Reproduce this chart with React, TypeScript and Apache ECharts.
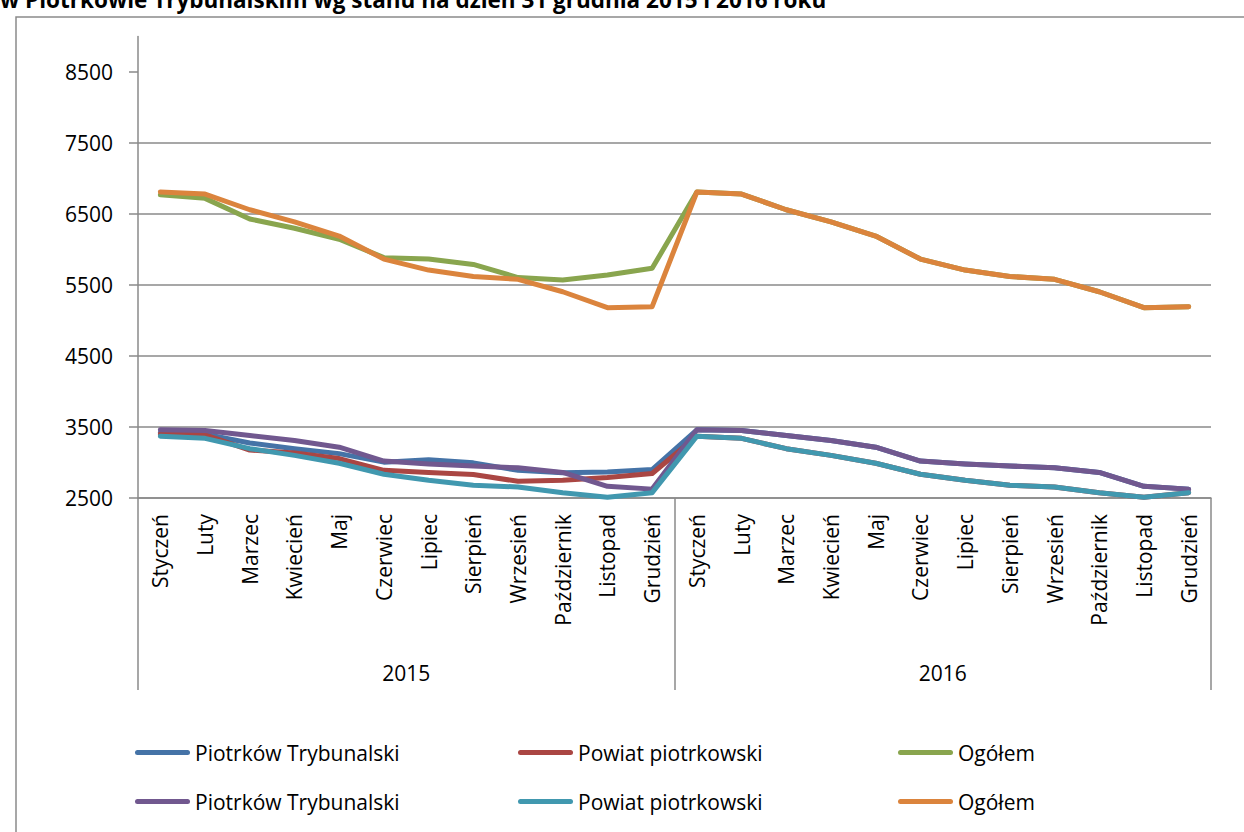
import React, { useEffect, useRef } from 'react';
import * as echarts from 'echarts';

const TITLE = 'w Piotrkowie Trybunalskim wg stanu na dzień 31 grudnia 2015 i 2016 roku';
const years = ['2015', '2016'];
const months = ['Styczeń', 'Luty', 'Marzec', 'Kwiecień', 'Maj', 'Czerwiec', 'Lipiec', 'Sierpień', 'Wrzesień', 'Październik', 'Listopad', 'Grudzień'];
const yTicks = [2500, 3500, 4500, 5500, 6500, 7500, 8500];

// 2015-style series (first three)
const piotrkow2015 = [3420, 3400, 3275, 3195, 3125, 3005, 3040, 2995, 2890, 2855, 2865, 2900];
const powiat2015 = [3400, 3390, 3175, 3135, 3055, 2890, 2860, 2830, 2735, 2750, 2790, 2845];
const ogolem2015 = [6770, 6720, 6430, 6300, 6145, 5885, 5865, 5790, 5605, 5570, 5640, 5735];
// 2016 values
const piotrkow2016 = [3460, 3450, 3380, 3310, 3215, 3020, 2980, 2950, 2925, 2860, 2665, 2625];
const powiat2016 = [3370, 3340, 3195, 3100, 2990, 2835, 2750, 2680, 2655, 2575, 2510, 2575];
const ogolem2016 = [6810, 6780, 6560, 6390, 6190, 5865, 5710, 5620, 5580, 5405, 5180, 5195];

const legendLabels = ['Piotrków Trybunalski', 'Powiat piotrkowski', 'Ogółem', 'Piotrków Trybunalski', 'Powiat piotrkowski', 'Ogółem'];
const seriesIds = ['s1', 's2', 's3', 's4', 's5', 's6'];
const colors = ['#4573A7', '#AA4643', '#89A54E', '#71588F', '#4198AF', '#DB843D'];

const seriesData = [
  [...piotrkow2015, ...piotrkow2016],
  [...powiat2015, ...powiat2016],
  [...ogolem2015, ...ogolem2016],
  [...piotrkow2016, ...piotrkow2016],
  [...powiat2016, ...powiat2016],
  [...ogolem2016, ...ogolem2016],
];

const FONT = '"Open Sans", sans-serif';
const GRID = '#8A8A8A';
const CAPSULE = 'path://M2.5,0 L52.5,0 A2.5,2.5 0 0 1 52.5,5 L2.5,5 A2.5,2.5 0 0 1 2.5,0 Z';

export default function App() {
  const ref = useRef<HTMLDivElement>(null);
  useEffect(() => {
    if (!ref.current) return;
    const chart = echarts.init(ref.current, undefined, { renderer: 'svg' });
    const categories = years.flatMap((y) => months.map((m) => `${y}|${m}`));
    const legendLeft = [135, 518, 898];
    const legendTop = [742, 791];
    chart.setOption({
      animation: false,
      backgroundColor: '#fff',
      title: {
        text: TITLE,
        left: 0,
        top: -12,
        padding: 0,
        textStyle: { fontFamily: FONT, fontSize: 22.5, fontWeight: 'bold', color: '#000' },
      },
      graphic: [
        {
          type: 'rect',
          silent: true,
          z: -10,
          shape: { x: 16, y: 17, width: 1400, height: 1000 },
          style: { fill: 'none', stroke: GRID, lineWidth: 1.5 },
        },
      ],
      legend: seriesIds.map((id, i) => ({
        data: [{ name: id, icon: CAPSULE }],
        left: legendLeft[i % 3],
        top: legendTop[Math.floor(i / 3)],
        padding: 0,
        itemWidth: 55,
        itemHeight: 5,
        selectedMode: false,
        formatter: () => legendLabels[i],
        textStyle: { fontFamily: FONT, fontSize: 21, color: '#000' },
      })),
      grid: { left: 138, right: 33, top: 36.5, bottom: 334, outerBoundsMode: 'none' },
      xAxis: [
        {
          type: 'category',
          data: categories,
          boundaryGap: true,
          axisLine: { show: true, lineStyle: { color: GRID, width: 1.5 } },
          axisTick: { show: false },
          splitLine: { show: false },
          axisLabel: {
            interval: 0,
            rotate: 90,
            margin: 16,
            fontFamily: FONT,
            fontSize: 21,
            color: '#000',
            formatter: (v: string) => v.split('|')[1],
          },
        },
        {
          type: 'category',
          data: years,
          position: 'bottom',
          offset: 192,
          boundaryGap: true,
          axisLine: { show: false },
          axisTick: { show: true, inside: true, length: 192, lineStyle: { color: GRID, width: 1.5 } },
          splitLine: { show: false },
          axisLabel: { margin: -28, fontFamily: FONT, fontSize: 21, color: '#000' },
        },
      ],
      yAxis: {
        type: 'value',
        min: 2500,
        max: 9000,
        interval: 1000,
        axisLine: { show: true, lineStyle: { color: GRID, width: 1.5 } },
        axisTick: { show: true, length: 9, lineStyle: { color: GRID, width: 1.5 }, customValues: yTicks },
        axisLabel: {
          margin: 25,
          fontFamily: FONT,
          fontSize: 21,
          color: '#000',
          customValues: yTicks,
          formatter: (v: number) => String(v),
        },
        splitLine: { show: true, showMaxLine: false, lineStyle: { color: GRID, width: 1.5 } },
      },
      series: seriesIds.map((id, i) => ({
        type: 'line',
        name: id,
        data: seriesData[i],
        xAxisIndex: 0,
        yAxisIndex: 0,
        symbol: 'none',
        color: colors[i],
        itemStyle: { color: colors[i] },
        lineStyle: { color: colors[i], width: 5, cap: 'round', join: 'round' },
        emphasis: { disabled: true },
      })),
    });
    return () => chart.dispose();
  }, []);
  return <div ref={ref} style={{ position: 'absolute', left: 0, top: 0, width: 1244, height: 832 }} />;
}
